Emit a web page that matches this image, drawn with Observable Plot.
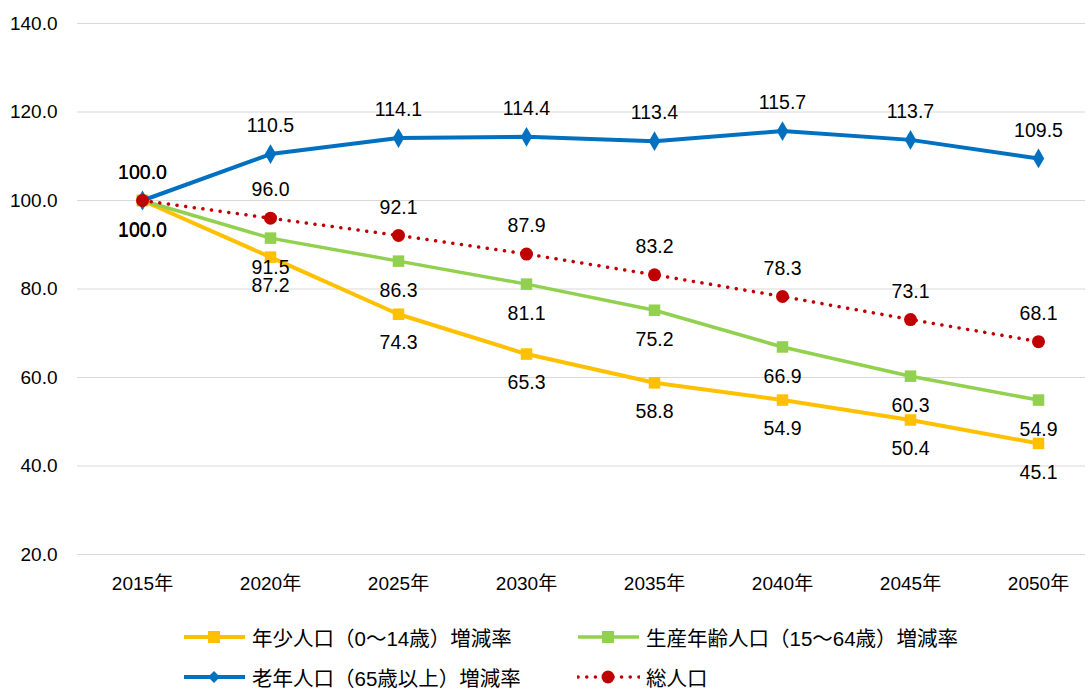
<!DOCTYPE html>
<html><head><meta charset="utf-8">
<script src="https://cdn.jsdelivr.net/npm/d3@7"></script>
<script src="https://cdn.jsdelivr.net/npm/@observablehq/plot@0.6"></script>
<style>
body{margin:0;background:#fff;font-family:"Liberation Sans","Noto Sans CJK JP",sans-serif;}
#legend{position:relative;width:1090px;height:84px;}
.item{position:absolute;display:flex;align-items:center;font-size:20.5px;color:#000;height:30px;white-space:nowrap;}
.item svg{margin-right:6px}
</style></head>
<body><div id="chart"></div><div id="legend"></div>
<script>
const years = ["2015年","2020年","2025年","2030年","2035年","2040年","2045年","2050年"];
const seriesNames = ["年少人口（0～14歳）増減率","生産年齢人口（15～64歳）増減率","老年人口（65歳以上）増減率","総人口"];
const youth   = [100.0, 87.2, 74.3, 65.3, 58.8, 54.9, 50.4, 45.1];
const working = [100.0, 91.5, 86.3, 81.1, 75.2, 66.9, 60.3, 54.9];
const elderly = [100.0, 110.5, 114.1, 114.4, 113.4, 115.7, 113.7, 109.5];
const total   = [100.0, 96.0, 92.1, 87.9, 83.2, 78.3, 73.1, 68.1];
const yTicks = [20, 40, 60, 80, 100, 120, 140];

const colors = ["#FFC000","#92D050","#0070C0","#C00000"];
const values = [youth, working, elderly, total];
const tables = values.map((v,i)=>years.map((y,j)=>({year:y, value:v[j], s:seriesNames[i]})));
const font = "Liberation Sans, Noto Sans CJK JP, sans-serif";

const lineStyles = [
  {stroke:colors[0], strokeWidth:4},
  {stroke:colors[1], strokeWidth:3.5},
  {stroke:colors[2], strokeWidth:4},
  {stroke:colors[3], strokeWidth:3.5, strokeDasharray:"0.1 8.6", strokeLinecap:"round"}
];
const markerStyles = [
  {symbol:"square", r:6.5, fill:colors[0]},
  {symbol:"square", r:6.5, fill:colors[1]},
  {symbol:"diamond", r:6, fill:colors[2]},
  {symbol:"circle", r:6.5, fill:colors[3]}
];
const labelDy = [29, 30, -28, -28];

const marks = [
  Plot.ruleY(yTicks, {stroke:"#d9d9d9", strokeWidth:1}),
  Plot.axisY({ticks:yTicks, tickSize:0, tickPadding:20, tickFormat:d=>d.toFixed(1), fontSize:19, label:null}),
  Plot.axisX({tickSize:0, tickPadding:22, fontSize:19, label:null})
];
tables.forEach((t,i)=>{
  marks.push(Plot.line(t, {x:"year", y:"value", ...lineStyles[i]}));
  marks.push(Plot.dot(t, {x:"year", y:"value", stroke:null, ...markerStyles[i]}));
});
tables.forEach((t,i)=>{
  marks.push(Plot.text(t, {x:"year", y:"value", text:d=>d.value.toFixed(1), dy:labelDy[i], fontSize:19.5, fill:"#000"}));
});

const chart = Plot.plot({
  width:1090, height:605,
  marginLeft:77, marginRight:5, marginTop:23, marginBottom:51,
  style:{fontFamily:font, color:"#000", background:"#fff"},
  x:{type:"point", domain:years, range:[141,1038], padding:0},
  y:{domain:[20,140]},
  marks
});
document.getElementById("chart").appendChild(chart);

// legend
const pos = [[183,32],[577,32],[183,72],[577,72]];
const leg = document.getElementById("legend");
seriesNames.forEach((n,i)=>{
  const d = document.createElement("div");
  d.className="item";
  d.style.left=pos[i][0]+"px"; d.style.top=(pos[i][1]-15)+"px";
  const ls = lineStyles[i];
  let marker;
  if(i<2) marker=`<rect x="25" y="9" width="12" height="12" fill="${colors[i]}"/>`;
  else if(i===2) marker=`<path d="M31 9 L37 15 L31 21 L25 15Z" fill="${colors[i]}"/>`;
  else marker=`<circle cx="31" cy="15" r="6.5" fill="${colors[i]}"/>`;
  const dash = ls.strokeDasharray ? `stroke-dasharray="${ls.strokeDasharray}" stroke-linecap="round"` : "";
  d.innerHTML = `<svg width="63" height="30"><line x1="1" x2="62" y1="15" y2="15" stroke="${colors[i]}" stroke-width="${ls.strokeWidth}" ${dash}/>${marker}</svg><span>${n}</span>`;
  leg.appendChild(d);
});
</script></body></html>
